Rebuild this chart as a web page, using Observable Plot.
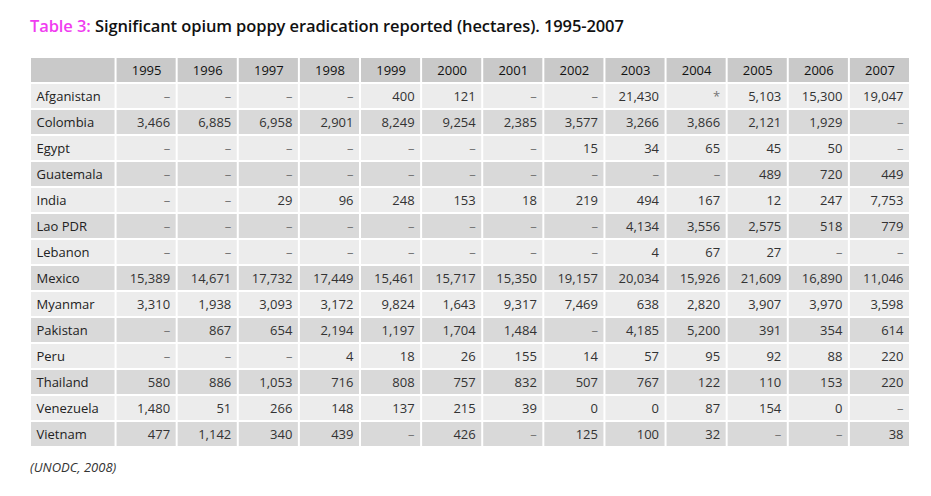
<!DOCTYPE html>
<html>
<head>
<meta charset="utf-8">
<script src="https://cdn.jsdelivr.net/npm/d3@7"></script>
<script src="https://cdn.jsdelivr.net/npm/@observablehq/plot@0.6"></script>
<style>
  html, body { margin: 0; padding: 0; background: #fff; }
  body { width: 931px; height: 496px; overflow: hidden; font-family: "Open Sans", sans-serif; }
  #title { height: 52px; box-sizing: border-box; padding: 14px 0 0 30px; font-size: 16.5px; font-weight: 600; color: #111; white-space: nowrap; letter-spacing: -0.1px; }
  #title .tag { color: #f03cf0; }
  #caption { padding: 6px 0 0 30px; font-size: 13px; font-style: italic; color: #333; }
  svg { display: block; }
</style>
</head>
<body>
<div id="title"><span class="tag">Table 3:</span> Significant opium poppy eradication reported (hectares). 1995-2007</div>
<div id="chart"></div>
<div id="caption">(UNODC, 2008)</div>
<script>
const years = ["1995","1996","1997","1998","1999","2000","2001","2002","2003","2004","2005","2006","2007"];
const countries = ["Afganistan","Colombia","Egypt","Guatemala","India","Lao PDR","Lebanon","Mexico","Myanmar","Pakistan","Peru","Thailand","Venezuela","Vietnam"];
const italicCountries = ["Mexico","Myanmar"];
// null = "–" (no data); "*" = footnote marker as printed
const eradication = [
  [null, null, null, null, 400, 121, null, null, 21430, "*", 5103, 15300, 19047],
  [3466, 6885, 6958, 2901, 8249, 9254, 2385, 3577, 3266, 3866, 2121, 1929, null],
  [null, null, null, null, null, null, null, 15, 34, 65, 45, 50, null],
  [null, null, null, null, null, null, null, null, null, null, 489, 720, 449],
  [null, null, 29, 96, 248, 153, 18, 219, 494, 167, 12, 247, 7753],
  [null, null, null, null, null, null, null, null, 4134, 3556, 2575, 518, 779],
  [null, null, null, null, null, null, null, null, 4, 67, 27, null, null],
  [15389, 14671, 17732, 17449, 15461, 15717, 15350, 19157, 20034, 15926, 21609, 16890, 11046],
  [3310, 1938, 3093, 3172, 9824, 1643, 9317, 7469, 638, 2820, 3907, 3970, 3598],
  [null, 867, 654, 2194, 1197, 1704, 1484, null, 4185, 5200, 391, 354, 614],
  [null, null, null, 4, 18, 26, 155, 14, 57, 95, 92, 88, 220],
  [580, 886, 1053, 716, 808, 757, 832, 507, 767, 122, 110, 153, 220],
  [1480, 51, 266, 148, 137, 215, 39, 0, 0, 87, 154, 0, null],
  [477, 1142, 340, 439, null, 426, null, 125, 100, 32, null, null, 38]
];

// layout (column units): country column is wider than the year columns
const countryColWidth = 1.4;
const HEADER = "header";
const fmt = d3.format(",");
const colors = { header: "#c9c9c9", dark: "#d9d9d9", light: "#ececec" };

const rowKeys = [HEADER, ...countries];
const rowFill = (key) => key === HEADER ? colors.header : (countries.indexOf(key) % 2 === 0 ? colors.light : colors.dark);

const cells = [];
countries.forEach((c, i) => {
  years.forEach((y, j) => {
    const v = eradication[i][j];
    cells.push({
      country: c,
      col: j,
      label: v === null ? "–" : (typeof v === "string" ? v : fmt(v)),
      missing: v === null || typeof v === "string"
    });
  });
});
const headerCells = years.map((y, j) => ({ year: y, col: j }));
const gridCols = [{ col: -1 }, ...years.map((y, j) => ({ col: j }))];
const bgCells = rowKeys.flatMap(k => gridCols.map(c => ({ key: k, col: c.col })));

const x1 = d => d.col < 0 ? 0 : countryColWidth + d.col;
const x2 = d => d.col < 0 ? countryColWidth : countryColWidth + d.col + 1;

const chart = Plot.plot({
  width: 931,
  height: 400,
  marginLeft: 30,
  marginRight: 21,
  marginTop: 0,
  marginBottom: 0,
  x: { domain: [0, countryColWidth + years.length], axis: null },
  y: { domain: rowKeys, axis: null, padding: 0 },
  color: { type: "identity" },
  style: { fontFamily: "Open Sans, sans-serif", fontSize: "13px", background: "white", overflow: "visible" },
  marks: [
    Plot.barX(bgCells, {
      x1, x2, y: "key",
      fill: d => rowFill(d.key),
      insetLeft: 1, insetRight: 1, insetTop: 1, insetBottom: 1
    }),
    Plot.text(headerCells, {
      x: d => countryColWidth + d.col + 0.5, y: () => HEADER,
      text: "year", textAnchor: "middle", fill: "#111"
    }),
    Plot.text(countries, {
      x: () => 0, y: d => d, text: d => d, textAnchor: "start", dx: 6,
      fill: "#222", fontStyle: d => italicCountries.includes(d) ? "italic" : "normal"
    }),
    Plot.text(cells, {
      x: d => countryColWidth + d.col + 1, y: "country", text: "label",
      textAnchor: "end", dx: -7, fill: d => d.missing ? "#777" : "#333"
    })
  ]
});
document.getElementById("chart").appendChild(chart);
</script>
</body>
</html>
